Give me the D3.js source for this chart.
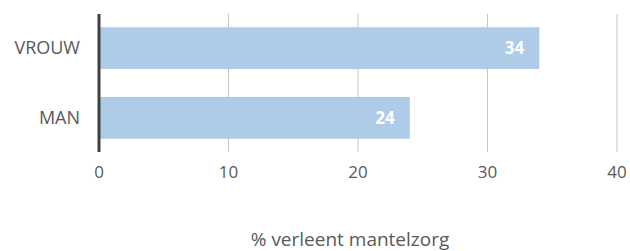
<!DOCTYPE html>
<meta charset="utf-8">
<script src="https://d3js.org/d3.v7.js"></script>
<style>
  body { margin: 0; background: #fff; }
  text { font-family: "Open Sans", sans-serif; }
</style>
<svg id="chart" width="630" height="251"></svg>
<script>

// Data
const categories = ["VROUW", "MAN"];
const values = [34, 24];
const tickValues = [0, 10, 20, 30, 40];
const axisTitle = "% verleent mantelzorg";

const svg = d3.select("#chart"),
  margin = {top: 14, right: 13, bottom: 99, left: 99},
  width = +svg.attr("width") - margin.left - margin.right,
  height = +svg.attr("height") - margin.top - margin.bottom;

const g = svg.append("g").attr("transform", `translate(${margin.left},${margin.top})`);

const x = d3.scaleLinear().domain([0, 40]).range([0, width]);
const y = d3.scaleBand().domain(categories).range([0, height]).paddingInner(0.4).paddingOuter(0.19);

// gridlines
g.append("g")
  .selectAll("line")
  .data(tickValues.slice(1))
  .join("line")
    .attr("x1", d => x(d)).attr("x2", d => x(d))
    .attr("y1", 0).attr("y2", height)
    .attr("stroke", "#c4c4c4")
    .attr("stroke-width", 1);

// bars
g.append("g")
  .selectAll("rect")
  .data(values)
  .join("rect")
    .attr("x", x(0))
    .attr("y", (d, i) => y(categories[i]))
    .attr("width", d => x(d) - x(0))
    .attr("height", y.bandwidth())
    .attr("fill", "#aecbe8");

// value labels
g.append("g")
  .selectAll("text")
  .data(values)
  .join("text")
    .attr("x", d => x(d) - 15)
    .attr("y", (d, i) => y(categories[i]) + y.bandwidth() / 2)
    .attr("dy", "0.35em")
    .attr("text-anchor", "end")
    .attr("fill", "#fff")
    .attr("font-weight", "bold")
    .attr("font-size", 17)
    .text(d => d);

// axis line at zero
g.append("line")
  .attr("x1", x(0)).attr("x2", x(0))
  .attr("y1", 0).attr("y2", height)
  .attr("stroke", "#404040")
  .attr("stroke-width", 3);

// category labels
g.append("g")
  .selectAll("text")
  .data(categories)
  .join("text")
    .attr("x", -19)
    .attr("y", d => y(d) + y.bandwidth() / 2)
    .attr("dy", "0.35em")
    .attr("text-anchor", "end")
    .attr("fill", "#595959")
    .attr("font-size", 18)
    .text(d => d);

// tick labels
g.append("g")
  .selectAll("text")
  .data(tickValues)
  .join("text")
    .attr("x", d => x(d))
    .attr("y", height + 20)
    .attr("dy", "0.35em")
    .attr("text-anchor", "middle")
    .attr("fill", "#595959")
    .attr("font-size", 17)
    .text(d => d);

// axis title
svg.append("text")
  .attr("x", 350)
  .attr("y", 246)
  .attr("text-anchor", "middle")
  .attr("fill", "#595959")
  .attr("font-size", 19)
  .text(axisTitle);

</script>
